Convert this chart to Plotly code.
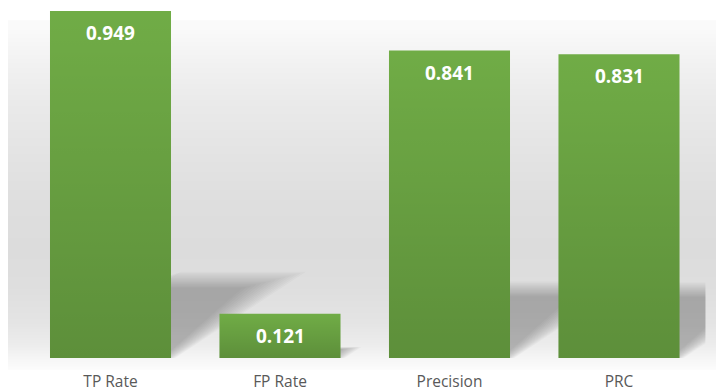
import numpy as np
import plotly.graph_objects as go

# Classifier evaluation metrics
categories = ["TP Rate", "FP Rate", "Precision", "PRC"]
values = [0.949, 0.121, 0.841, 0.831]

BAR_COLOR = "#70ac46"
LABEL_GREY = "#595959"

# Axis ranges (category units / value units)
X_RANGE = [-0.6047, 3.5723]
Y_RANGE = [-0.0328, 0.9792]
BAR_HALF = 0.357          # half bar width in category units
SHADOW_CLIP = 3.51        # shadows end at the chart edge

# Backdrop: vertical grey fade (value-units y, grey level)
bg_y = [Y_RANGE[0], -0.02, 0.0, 0.04, 0.1, 0.2, 0.3, 0.42, 0.55, 0.7, 0.8, 0.86, 0.9026]
bg_level = [253, 250, 246, 236, 228, 222, 220, 222, 227, 234, 241, 246, 250]


def clip_right(pts, xc):
    """Clip a polygon against the vertical line x = xc (keep x <= xc)."""
    out = []
    n = len(pts)
    for k in range(n):
        p, q = pts[k], pts[(k + 1) % n]
        pin, qin = p[0] <= xc, q[0] <= xc
        if pin:
            out.append(p)
        if pin != qin:
            t = (xc - p[0]) / (q[0] - p[0])
            out.append((xc, p[1] + t * (q[1] - p[1])))
    return out


fig = go.Figure()

# Backdrop gradient
fig.add_trace(go.Heatmap(
    x=[X_RANGE[0], X_RANGE[1]],
    y=bg_y,
    z=[[lv, lv] for lv in bg_level],
    zmin=0, zmax=255,
    colorscale=[[0, "rgb(0,0,0)"], [1, "rgb(255,255,255)"]],
    showscale=False, zsmooth="best", hoverinfo="skip",
    xaxis="x", yaxis="y",
))

# Soft floor shadows cast behind each bar (stacked translucent layers)
for i, v in enumerate(values):
    h = 0.232 * v
    dx = 0.70 * v
    for f in np.linspace(0.70, 1.16, 14):
        t = (f - 1.0) * 0.16
        x0, x1 = i - BAR_HALF, i + BAR_HALF + t
        hh = h * (1.0 + (f - 1.0) * 0.45)
        pts = [(x0, 0.0), (x1, 0.0), (x1 + dx * f, hh), (x0 + dx * f, hh)]
        pts = clip_right(pts, SHADOW_CLIP)
        xs = [p[0] for p in pts] + [pts[0][0]]
        ys = [p[1] for p in pts] + [pts[0][1]]
        fig.add_trace(go.Scatter(
            x=xs, y=ys, mode="lines", fill="toself",
            line=dict(width=0), fillcolor="rgba(30,30,30,0.024)",
            hoverinfo="skip", showlegend=False,
            xaxis="x", yaxis="y",
        ))

# Bars
fig.add_trace(go.Bar(
    x=list(range(len(categories))), y=values,
    marker=dict(color=BAR_COLOR, line=dict(width=0)),
    xaxis="x2", yaxis="y2", hoverinfo="skip", showlegend=False,
))

# Subtle top-to-bottom darkening over each bar
for i, v in enumerate(values):
    fig.add_trace(go.Scatter(
        x=[i - BAR_HALF, i + BAR_HALF, i + BAR_HALF, i - BAR_HALF, i - BAR_HALF],
        y=[0, 0, v, v, 0],
        mode="lines", line=dict(width=0), fill="toself",
        fillgradient=dict(
            type="vertical",
            colorscale=[[0, "rgba(0,0,0,0.17)"], [1, "rgba(0,0,0,0.0)"]],
        ),
        hoverinfo="skip", showlegend=False,
        xaxis="x2", yaxis="y2",
    ))

# Value labels inside the bars
for i, v in enumerate(values):
    fig.add_annotation(
        x=i, y=v, xref="x2", yref="y2", yshift=-22,
        text=f"{v:.3f}", showarrow=False, yanchor="middle",
        font=dict(family="Open Sans", size=19, color="white", weight="bold"),
    )

fig.update_layout(
    width=716, height=392,
    margin=dict(l=8, r=0, t=0, b=22),
    paper_bgcolor="white", plot_bgcolor="white",
    bargap=0.286,
    showlegend=False,
    xaxis=dict(range=X_RANGE, visible=False, fixedrange=True),
    yaxis=dict(range=Y_RANGE, visible=False, fixedrange=True),
    xaxis2=dict(
        range=X_RANGE, overlaying="x", side="bottom",
        showgrid=False, zeroline=False, showline=False, ticks="",
        tickmode="array", tickvals=list(range(len(categories))), ticktext=categories,
        tickfont=dict(family="Open Sans", size=15.5, color=LABEL_GREY),
    ),
    yaxis2=dict(
        range=Y_RANGE, overlaying="y", visible=False,
        showgrid=False, zeroline=False,
    ),
)

fig.write_html("out.html")
